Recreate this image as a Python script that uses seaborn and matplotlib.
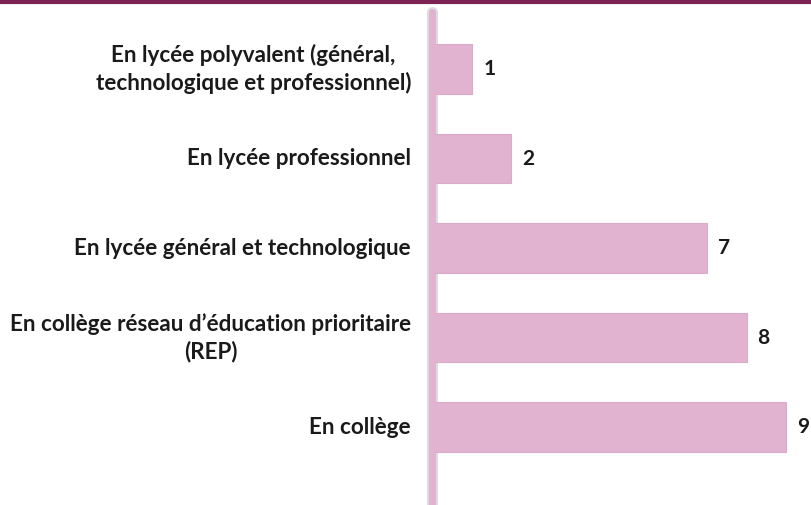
import matplotlib
matplotlib.use("Agg")
import matplotlib.pyplot as plt
import matplotlib.transforms as mtransforms
import seaborn as sns
import pandas as pd
from matplotlib.lines import Line2D

categories = [
    "En lycée polyvalent (général,\ntechnologique et professionnel)",
    "En lycée professionnel",
    "En lycée général et technologique",
    "En collège réseau d’éducation prioritaire\n(REP)",
    "En collège",
]
values = [1, 2, 7, 8, 9]

df = pd.DataFrame({"cat": categories, "val": values})

sns.set_theme(style="white")
plt.rcParams["font.family"] = ["Lato", "DejaVu Sans"]

fig = plt.figure(figsize=(8.11, 5.05), dpi=100)
ax = fig.add_axes([433 / 811, 0.0, 1 - 433 / 811, 1 - 12 / 505])

bar_color = "#E2B3D1"
sns.barplot(data=df, x="val", y="cat", orient="h", color=bar_color,
            width=0.55, saturation=1, ax=ax, edgecolor="#DBA9C9", linewidth=0.8)

ax.set_xlim(0, (811 - 433) / 39.2)
ax.set_ylim(4.87, -0.637)
ax.set_xlabel("")
ax.set_ylabel("")
ax.set_xticks([])
for s in ["top", "right", "bottom", "left"]:
    ax.spines[s].set_visible(False)

# axis line with slight shadow
ax.axvline(-0.02, color="#DCDCDC", linewidth=8, zorder=0.5, clip_on=False)
ax.axvline(-0.02, color="#E2B3D1", linewidth=5, zorder=5, clip_on=False)

ax.tick_params(axis="y", length=0, labelleft=False)

lbl_tr = mtransforms.offset_copy(ax.get_yaxis_transform(), fig=fig, x=-22, y=0, units="dots")
for i, c in enumerate(categories):
    ax.text(0, i, c, transform=lbl_tr, ha="right", va="center",
            multialignment="center", fontweight="bold", fontsize=16.2,
            color="#1a1a1a", linespacing=1.35, clip_on=False)

for i, v in enumerate(values):
    ax.text(v + 0.28, i, str(v), va="center", ha="left",
            fontsize=15, fontweight="bold", color="#1a1a1a")

fig.add_artist(Line2D([0, 1], [0.997, 0.997], transform=fig.transFigure,
                      color="#7A2352", linewidth=3))

fig.savefig("out.png", dpi=100)
